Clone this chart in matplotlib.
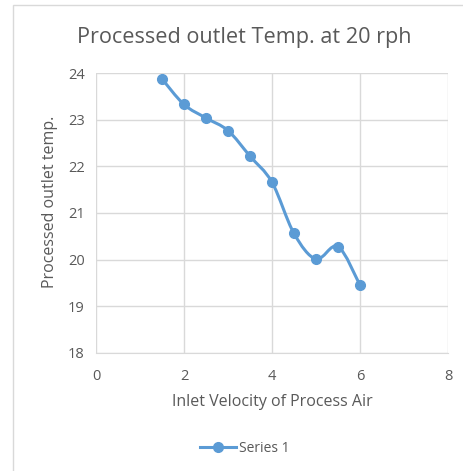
import matplotlib
matplotlib.use("Agg")
import matplotlib.pyplot as plt
import numpy as np
from matplotlib.path import Path
from matplotlib.patches import PathPatch, Rectangle
from matplotlib.lines import Line2D

# data
velocity = [1.5, 2.0, 2.5, 3.0, 3.5, 4.0, 4.5, 5.0, 5.5, 6.0]
outlet_temp = [23.88, 23.33, 23.04, 22.77, 22.22, 21.66, 20.56, 20.01, 20.28, 19.45]
x_ticks = [0, 2, 4, 6, 8]
y_ticks = [18, 19, 20, 21, 22, 23, 24]

LINE_COLOR = "#5B9BD5"
GRID_COLOR = "#D9D9D9"
TEXT_COLOR = "#595959"
FONT = "Open Sans"


def smooth_path(xs, ys, tension=1 / 6):
    """Bezier path through the points, like a spreadsheet 'smoothed line'."""
    pts = np.column_stack([xs, ys])
    verts = [pts[0]]
    codes = [Path.MOVETO]
    n = len(pts)
    for i in range(n - 1):
        p0 = pts[max(i - 1, 0)]
        p1 = pts[i]
        p2 = pts[i + 1]
        p3 = pts[min(i + 2, n - 1)]
        c1 = p1 + (p2 - p0) * tension
        c2 = p2 - (p3 - p1) * tension
        verts += [c1, c2, p2]
        codes += [Path.CURVE4] * 3
    return Path(verts, codes)


fig = plt.figure(figsize=(4.64, 4.71), dpi=100)
fig.patches.append(Rectangle((13 / 464, -0.1), 1.2, 1 - 5 / 471 + 0.1,
                             transform=fig.transFigure, fill=False,
                             edgecolor=GRID_COLOR, lw=1))

ax = fig.add_axes([96 / 464, 1 - 352.7 / 471, 352 / 464, 279.4 / 471])
ax.set_xlim(0, 8)
ax.set_ylim(18, 24)
ax.set_xticks(x_ticks)
ax.set_yticks(y_ticks)
ax.grid(True, color=GRID_COLOR, lw=1, zorder=0)
for side in ["top", "right", "left"]:
    ax.spines[side].set_visible(False)
ax.spines["bottom"].set_color(GRID_COLOR)
ax.tick_params(length=0, colors=TEXT_COLOR, labelsize=10.5)
ax.tick_params(axis="x", pad=12)
ax.tick_params(axis="y", pad=8)
for lbl in ax.get_xticklabels() + ax.get_yticklabels():
    lbl.set_fontfamily(FONT)

ax.add_patch(PathPatch(smooth_path(velocity, outlet_temp), fill=False,
                       edgecolor=LINE_COLOR, lw=2.2, zorder=3))
ax.plot(velocity, outlet_temp, ls="none", marker="o", ms=7,
        color=LINE_COLOR, zorder=4)

ax.set_xlabel("Inlet Velocity of Process Air", fontsize=11.5,
              color=TEXT_COLOR, family=FONT)
ax.xaxis.set_label_coords(0.5, -(402 - 352.7) / 279.4)
ax.set_ylabel("Processed outlet temp.", fontsize=11.5,
              color=TEXT_COLOR, family=FONT)
ax.yaxis.set_label_coords(-(96 - 50) / 352, (352.7 - 201.5) / 279.4)
ax.xaxis.label.set_va("center")
ax.yaxis.label.set_va("center")
fig.text(244 / 464, 1 - 38 / 471, "Processed outlet Temp. at 20 rph",
         ha="center", va="center", fontsize=15.6, color=TEXT_COLOR, family=FONT)

handle = Line2D([], [], color=LINE_COLOR, lw=2.2, marker="o", ms=7)
fig.legend([handle], ["Series 1"], loc="center",
           bbox_to_anchor=(245 / 464, 1 - 448 / 471), frameon=False,
           prop={"family": FONT, "size": 10}, labelcolor=TEXT_COLOR,
           handlelength=2.6, handletextpad=0.2)

fig.savefig("out.png", dpi=100)
